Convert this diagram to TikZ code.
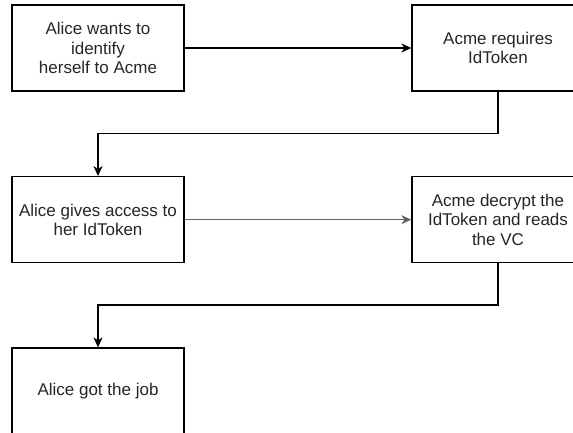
\documentclass[tikz,border=0pt]{standalone}
\usepackage{fontspec}
\setmainfont{Liberation Sans}
\usetikzlibrary{arrows.meta}
\definecolor{linegray}{RGB}{100,100,100}
\tikzset{
  stepbox/.style={draw=black, line width=1.2pt, fill=white, minimum width=172pt, minimum height=86pt,
    inner sep=0pt, align=center, font=\fontsize{17}{19.5}\selectfont, text=black!85},
  conn/.style={line width=1.2pt, -{Stealth[length=10pt,width=9pt,inset=3pt]}},
}
\begin{document}
\begin{tikzpicture}[x=1pt,y=-1pt]
\useasboundingbox (0,0) rectangle (573,432);
\clip (0,0) rectangle (573,432);
\node[stepbox] (b1) at (98,48) {Alice wants to\\identify\\herself to Acme};
\node[stepbox] (b2) at (498,48) {Acme requires\\IdToken};
\node[stepbox] (b3) at (98,219.7) {Alice gives access to\\her IdToken};
\node[stepbox] (b4) at (498,219.7) {Acme decrypt the\\IdToken and reads\\the VC};
\node[stepbox] (b5) at (98,391) {Alice got the job};
\coordinate (k1) at (498,133.5);
\coordinate (k2) at (498,305);
\draw[conn] (b1.east) -- (b2.west);
\draw[conn] (b2.south) -- (k1) -| (b3.north);
\draw[conn, draw=linegray, line width=1.4pt] (b3.east) -- (b4.west);
\draw[conn] (b4.south) -- (k2) -| (b5.north);
\end{tikzpicture}
\end{document}
